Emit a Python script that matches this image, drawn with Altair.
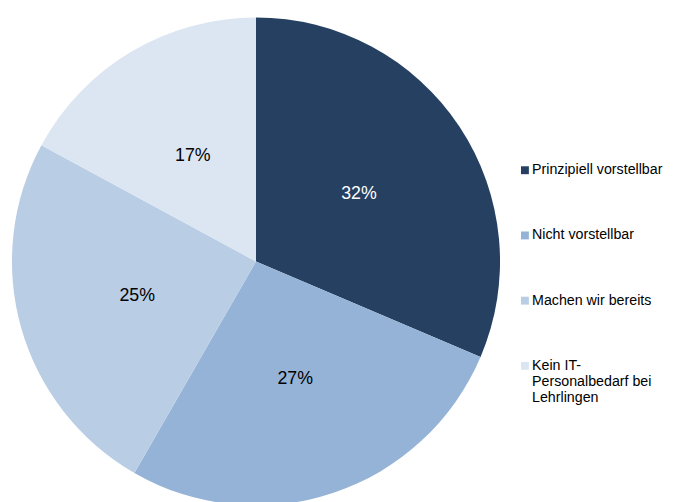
import altair as alt
import pandas as pd

# Data
categories = [
    "Prinzipiell vorstellbar",
    "Nicht vorstellbar",
    "Machen wir bereits",
    "Kein IT-|Personalbedarf bei|Lehrlingen",
]
shares = [31.4, 26.9, 24.6, 17.1]
labels = ["32%", "27%", "25%", "17%"]
colors = ["#254061", "#95B3D7", "#B9CDE5", "#DCE6F2"]
label_colors = ["#FFFFFF", "#000000", "#000000", "#000000"]

df = pd.DataFrame({
    "category": categories,
    "share": shares,
    "label": labels,
    "order": list(range(len(categories))),
    "tcolor": label_colors,
})

FONT = "Liberation Sans"
CX, CY = 251, 253.5
R = 247

base = alt.Chart(df).encode(
    theta=alt.Theta("share:Q", stack=True),
    order=alt.Order("order:Q", sort="ascending"),
)

pie = base.mark_arc(radius=R, strokeWidth=0).encode(
    x=alt.value(CX),
    y=alt.value(CY),
    color=alt.Color(
        "category:N",
        scale=alt.Scale(domain=categories, range=colors),
        sort=categories,
        legend=alt.Legend(
            title=None,
            orient="none",
            legendX=516,
            legendY=154,
            symbolType="square",
            symbolSize=64,
            symbolStrokeWidth=0,
            labelFont=FONT,
            labelFontSize=14.4,
            labelColor="#000000",
            labelOffset=0,
            labelLimit=300,
            rowPadding=51,
            padding=0,
            labelExpr="split(datum.label, '|')",
        ),
    ),
)

text = base.mark_text(
    radius=125, font=FONT, fontSize=18, baseline="middle", align="center", dy=1
).encode(
    x=alt.value(CX),
    y=alt.value(CY),
    text="label:N",
    detail="category:N",
    color=alt.Color("tcolor:N", scale=None),
)

chart = (
    alt.layer(pie, text)
    .properties(
        width=667,
        height=494,
        padding=0,
        autosize=alt.AutoSizeParams(type="none"),
    )
    .configure_view(stroke=None)
)

chart.save("out.html", embed_options={"renderer": "svg", "actions": False})
